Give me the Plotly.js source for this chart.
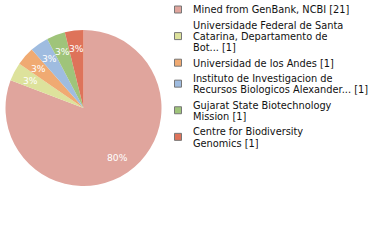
<!DOCTYPE html>
<html><head><meta charset="utf-8">
<script src="https://cdn.plot.ly/plotly-3.0.1.min.js"></script>
<style>html,body{margin:0;padding:0;background:#fff;}#chart{width:380px;height:240px;}</style>
</head><body><div id="chart"></div>
<script>
// ---- data ----
var categories = ["Mined from GenBank, NCBI", "Universidade Federal de Santa Catarina, Departamento de Bot...", "Universidad de los Andes", "Instituto de Investigacion de Recursos Biologicos Alexander...", "Gujarat State Biotechnology Mission", "Centre for Biodiversity Genomics"];
var counts = [21, 1, 1, 1, 1, 1];
var legendLines = [
  ["Mined from GenBank, NCBI [21]"],
  ["Universidade Federal de Santa", "Catarina, Departamento de", "Bot... [1]"],
  ["Universidad de los Andes [1]"],
  ["Instituto de Investigacion de", "Recursos Biologicos Alexander... [1]"],
  ["Gujarat State Biotechnology", "Mission [1]"],
  ["Centre for Biodiversity", "Genomics [1]"]
];
var colors = ["#e0a59d", "#dde29c", "#f0aa72", "#9fbce0", "#9fc47a", "#de735a"];

// ---- layout helpers ----
var W = 380, H = 240;
var FONT = "DejaVu Sans, sans-serif";
var cx = 83.5, cy = 108, R = 78;
function px(x){ return x / W; }
function py(y){ return 1 - y / H; }

var total = counts.reduce(function(a,b){return a+b;}, 0);
var annotations = [], shapes = [];

// slice percentage labels (floored), placed at 0.77 R on the mid-angle, clockwise from 12 o'clock
var cum = 0;
counts.forEach(function(v){
  var mid = (cum + v / 2) / total * 2 * Math.PI;
  cum += v;
  var r = 0.77 * R;
  annotations.push({
    xref: "paper", yref: "paper", showarrow: false,
    x: px(cx + r * Math.sin(mid)), y: py(cy - r * Math.cos(mid)),
    xanchor: "center", yanchor: "middle",
    height: 11, valign: "middle",
    text: Math.floor(v / total * 100) + "%",
    font: {family: FONT, size: 9.2, color: "#ffffff"}
  });
});

// legend
var baseY = 13.5, lineH = 11.3, itemGap = 4.0;
var y = baseY;
legendLines.forEach(function(lines, i){
  var first = y;
  lines.forEach(function(t, j){
    if (j > 0) y += lineH;
    annotations.push({
      xref: "paper", yref: "paper", showarrow: false,
      x: px(191), y: py(y - 3.5), xanchor: "left", yanchor: "middle",
      height: 11, valign: "middle",
      text: t, font: {family: FONT, size: 9.8, color: "#111111"}
    });
  });
  var mc = (first + y) / 2 - 4;
  shapes.push({
    type: "rect", xref: "paper", yref: "paper",
    x0: px(174.5), x1: px(181.5), y0: py(mc - 3.5), y1: py(mc + 3.5),
    fillcolor: colors[i], line: {color: "#777777", width: 1}
  });
  y += lineH + itemGap;
});

var data = [{
  type: "pie",
  labels: categories,
  values: counts,
  sort: false,
  direction: "clockwise",
  rotation: 0,
  textinfo: "none",
  hoverinfo: "label+value+percent",
  marker: {colors: colors, line: {width: 0}},
  domain: {x: [px(cx - R), px(cx + R)], y: [py(cy + R), py(cy - R)]},
  showlegend: false
}];

var layout = {
  width: W, height: H,
  margin: {l: 0, r: 0, t: 0, b: 0},
  paper_bgcolor: "#ffffff",
  showlegend: false,
  annotations: annotations,
  shapes: shapes
};
Plotly.newPlot("chart", data, layout, {staticPlot: true, displayModeBar: false});
</script></body></html>
